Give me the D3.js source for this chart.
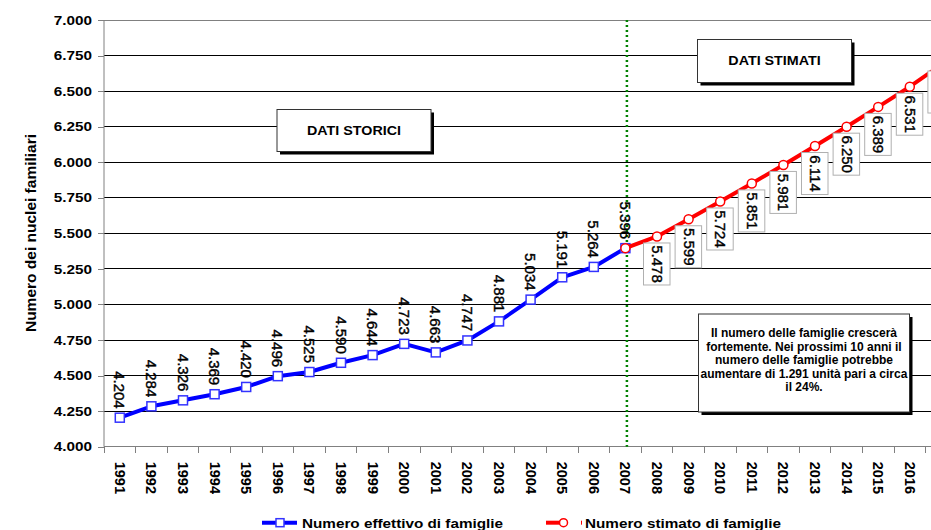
<!DOCTYPE html>
<html>
<head>
<meta charset="utf-8">
<script src="https://cdn.jsdelivr.net/npm/d3@7"></script>
<style>
  html, body { margin: 0; padding: 0; background: #fff; }
  svg { display: block; font-family: "Liberation Sans", Arial, sans-serif; }
</style>
</head>
<body>
<svg id="chart" width="931" height="530"></svg>
<script>
// ---- data ----
const years = ["1991","1992","1993","1994","1995","1996","1997","1998","1999","2000","2001","2002","2003","2004","2005","2006","2007","2008","2009","2010","2011","2012","2013","2014","2015","2016","2017"];
const actualYears = ["1991","1992","1993","1994","1995","1996","1997","1998","1999","2000","2001","2002","2003","2004","2005","2006","2007"];
const actualValues = [4204, 4284, 4326, 4369, 4420, 4496, 4525, 4590, 4644, 4723, 4663, 4747, 4881, 5034, 5191, 5264, 5396];
const estYears = ["2007","2008","2009","2010","2011","2012","2013","2014","2015","2016","2017"];
const estValues = [5396, 5478, 5599, 5724, 5851, 5981, 6114, 6250, 6389, 6531, 6687];
const yTicks = [4000, 4250, 4500, 4750, 5000, 5250, 5500, 5750, 6000, 6250, 6500, 6750, 7000];
const splitYear = "2007";
const yTitle = "Numero dei nuclei familiari";
const legendLabels = ["Numero effettivo di famiglie", "Numero stimato di famiglie"];
const boxStorici = "DATI STORICI";
const boxStimati = "DATI STIMATI";
const noteLines = ["Il numero delle famiglie crescerà", "fortemente. Nei prossimi 10 anni il", "numero delle famiglie potrebbe", "aumentare di 1.291 unità pari a circa", "il 24%."];

(function () {
// ---- setup ----
const W = 931;
const svg = d3.select("#chart");
const locale = d3.formatLocale({decimal: ",", thousands: ".", grouping: [3], currency: ["", ""]});
const fmt = locale.format(",d");

const pLeft = 104, pTop = 20, pBottom = 446.7, step = 31.6, pRight = W;
const x = d3.scaleBand().domain(years).range([pLeft, pLeft + step * years.length]).padding(0);
const y = d3.scaleLinear().domain([4000, 7000]).range([pBottom, pTop]);
const cx = d => x(d) + x.bandwidth() / 2;
const visible = d => cx(d) + 8 < W;   // the chart runs past the right edge of the picture

// gridlines
svg.append("g").selectAll("line").data(yTicks.filter(v => v > 4000)).join("line")
  .attr("x1", pLeft).attr("x2", pRight)
  .attr("y1", d => y(d)).attr("y2", d => y(d))
  .attr("stroke", d => d === 7000 ? "#808080" : "#000")
  .attr("stroke-width", 1)
  .attr("shape-rendering", "crispEdges");

// y axis
const yAxis = svg.append("g").attr("transform", `translate(${pLeft},0)`)
  .call(d3.axisLeft(y).tickValues(yTicks).tickSize(6).tickPadding(0).tickFormat(() => ""));
yAxis.select(".domain").attr("stroke", "#808080").attr("d", `M0,${pTop}V${pBottom}`);
yAxis.selectAll(".tick line").attr("stroke", "#808080").attr("shape-rendering", "crispEdges");
svg.append("g").selectAll("g").data(yTicks).join("g")
  .attr("transform", d => `translate(92,${y(d)}) scale(1.15,1)`)
  .append("text")
  .attr("text-anchor", "end").attr("dominant-baseline", "central")
  .attr("font-size", 13.3).attr("font-weight", "bold").attr("fill", "#000")
  .text(d => fmt(d));

// x axis
svg.append("line").attr("x1", pLeft).attr("x2", pRight).attr("y1", pBottom).attr("y2", pBottom)
  .attr("stroke", "#808080").attr("shape-rendering", "crispEdges");
const bounds = years.map(d => x(d)).concat([x(years[years.length - 1]) + x.bandwidth()]);
svg.append("g").selectAll("line").data(bounds).join("line")
  .attr("x1", d => d).attr("x2", d => d).attr("y1", pBottom).attr("y2", pBottom + 6)
  .attr("stroke", "#808080").attr("shape-rendering", "crispEdges");
const xAxis = svg.append("g").attr("transform", `translate(0,${pBottom})`)
  .call(d3.axisBottom(x).tickValues(years.filter(visible)).tickSize(0).tickPadding(0));
xAxis.select(".domain").remove();
xAxis.selectAll(".tick text")
  .attr("transform", "translate(0,15) rotate(90)")
  .attr("x", 0).attr("y", 0).attr("dy", null)
  .attr("text-anchor", "start").attr("dominant-baseline", "central")
  .attr("font-size", 14.5).attr("font-weight", "bold").attr("fill", "#000")
  .attr("font-family", "\"Liberation Sans\", Arial, sans-serif");

// y title
svg.append("text")
  .attr("transform", `translate(30,233) rotate(-90)`)
  .attr("text-anchor", "middle").attr("dominant-baseline", "central")
  .attr("font-size", 15.5).attr("font-weight", "bold").text(yTitle);

// split line
svg.append("line").attr("x1", cx(splitYear) + 1.5).attr("x2", cx(splitYear) + 1.5)
  .attr("y1", pTop).attr("y2", pBottom)
  .attr("stroke", "#008000").attr("stroke-width", 2.5).attr("stroke-dasharray", "2,3");

// text boxes with shadow
function shadowBox(x0, y0, w, h) {
  svg.append("rect").attr("x", x0 + 3).attr("y", y0 + 3).attr("width", w).attr("height", h).attr("fill", "#000");
  svg.append("rect").attr("x", x0).attr("y", y0).attr("width", w).attr("height", h)
    .attr("fill", "#fff").attr("stroke", "#333").attr("stroke-width", 1);
}
shadowBox(277, 109.5, 154, 42);
svg.append("g").attr("transform", "translate(354,131) scale(1.1,1)").append("text")
  .attr("text-anchor", "middle").attr("dominant-baseline", "central")
  .attr("font-size", 13).attr("font-weight", "bold").text(boxStorici);
shadowBox(697.5, 39.5, 154, 43);
svg.append("g").attr("transform", "translate(774.5,61) scale(1.1,1)").append("text")
  .attr("text-anchor", "middle").attr("dominant-baseline", "central")
  .attr("font-size", 13).attr("font-weight", "bold").text(boxStimati);
shadowBox(698.5, 314, 211, 98);
svg.append("g").selectAll("text").data(noteLines).join("text")
  .attr("x", 804).attr("y", (d, i) => 333 + i * 13.6)
  .attr("text-anchor", "middle").attr("dominant-baseline", "central")
  .attr("font-size", 12).attr("font-weight", "bold").text(d => d);

// actual series
const line = d3.line();
const actPts = actualYears.map((d, i) => [cx(d), y(actualValues[i])]);
svg.append("path").attr("d", line(actPts)).attr("fill", "none")
  .attr("stroke", "#0000ff").attr("stroke-width", 4).attr("stroke-linejoin", "round");
svg.append("g").selectAll("rect").data(actPts).join("rect")
  .attr("x", d => d[0] - 4.5).attr("y", d => d[1] - 4.5).attr("width", 9).attr("height", 9)
  .attr("fill", "#fff").attr("stroke", "#3333ff").attr("stroke-width", 1.5);
svg.append("g").selectAll("text").data(actualYears).join("text")
  .attr("transform", (d, i) => `translate(${cx(d)},${y(actualValues[i]) - 9}) rotate(90)`)
  .attr("text-anchor", "end").attr("dominant-baseline", "central")
  .attr("font-size", 15).attr("fill", "#000").attr("stroke", "#000").attr("stroke-width", 0.4)
  .text((d, i) => fmt(actualValues[i]));

// estimated series
const estPts = estYears.map((d, i) => [cx(d), y(estValues[i])]);
svg.append("path").attr("d", line(estPts)).attr("fill", "none")
  .attr("stroke", "#ff0000").attr("stroke-width", 4).attr("stroke-linejoin", "round");
const estLab = estYears.map((d, i) => ({year: d, v: estValues[i]})).filter(d => d.year !== splitYear);
const lg = svg.append("g").selectAll("g").data(estLab).join("g")
  .attr("transform", d => `translate(${cx(d.year)},${y(d.v)})`);
lg.append("rect").attr("x", -13.5).attr("y", 6.5).attr("width", 26.5).attr("height", 42)
  .attr("fill", "#fff").attr("stroke", "#b0b0b0").attr("stroke-width", 1);
lg.filter(d => visible(d.year)).append("text").attr("transform", "translate(0.5,27.5) rotate(90)")
  .attr("text-anchor", "middle").attr("dominant-baseline", "central")
  .attr("font-size", 15).attr("fill", "#000").attr("stroke", "#000").attr("stroke-width", 0.4)
  .text(d => fmt(d.v));
svg.append("g").selectAll("circle").data(estPts).join("circle")
  .attr("cx", d => d[0]).attr("cy", d => d[1]).attr("r", 4.5)
  .attr("fill", "#fff").attr("stroke", "#ff0000").attr("stroke-width", 1.5);

// legend
const ly = 522.7;
svg.append("line").attr("x1", 262).attr("x2", 297).attr("y1", ly).attr("y2", ly)
  .attr("stroke", "#0000ff").attr("stroke-width", 4);
svg.append("rect").attr("x", 276).attr("y", ly - 4).attr("width", 8).attr("height", 8)
  .attr("fill", "#fff").attr("stroke", "#3333ff").attr("stroke-width", 1.5);
svg.append("g").attr("transform", `translate(302,527.5) scale(1.175,1)`).append("text")
  .attr("font-size", 13).attr("font-weight", "bold").text(legendLabels[0]);
svg.append("line").attr("x1", 546).attr("x2", 561).attr("y1", ly).attr("y2", ly)
  .attr("stroke", "#ff0000").attr("stroke-width", 4);
svg.append("circle").attr("cx", 563.5).attr("cy", ly).attr("r", 4)
  .attr("fill", "#fff").attr("stroke", "#ff0000").attr("stroke-width", 1.5);
svg.append("line").attr("x1", 581.5).attr("x2", 581.5).attr("y1", ly - 2).attr("y2", ly + 2)
  .attr("stroke", "#ff0000").attr("stroke-width", 1);
svg.append("g").attr("transform", `translate(585,527.5) scale(1.175,1)`).append("text")
  .attr("font-size", 13).attr("font-weight", "bold").text(legendLabels[1]);
})();
</script>
</body>
</html>
